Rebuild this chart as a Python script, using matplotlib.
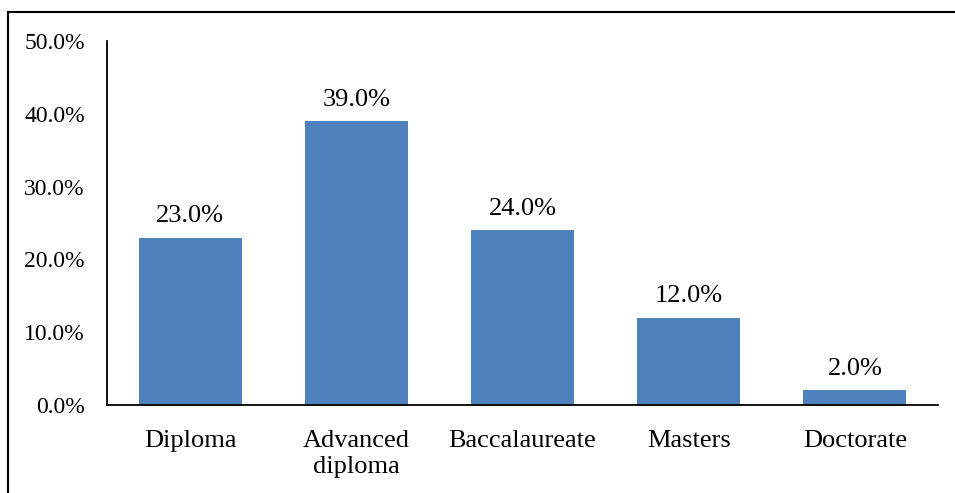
import matplotlib
matplotlib.use("Agg")
import matplotlib.pyplot as plt
from matplotlib.lines import Line2D

categories = ["Diploma", "Advanced\ndiploma", "Baccalaureate", "Masters", "Doctorate"]
values = [23.0, 39.0, 24.0, 12.0, 2.0]
yticks = [0, 10, 20, 30, 40, 50]

plt.rcParams["font.family"] = ["Liberation Serif", "DejaVu Serif"]

fig = plt.figure(figsize=(9.55, 4.93), dpi=100)
ax = fig.add_axes([107 / 955, 1 - 405 / 493, (938 - 107) / 955, (405 - 41) / 493])

x = range(len(categories))
bars = ax.bar(x, values, width=0.62, color="#4F81BD")
for b, v in zip(bars, values):
    ax.text(b.get_x() + b.get_width() / 2, v + 1.4, f"{v:.1f}%",
            ha="center", va="bottom", fontsize=19)

ax.set_xlim(-0.5, len(categories) - 0.5)
ax.set_ylim(0, 50)
ax.set_yticks(yticks)
ax.set_yticklabels([f"{t:.1f}%" for t in yticks], fontsize=17)
ax.set_xticks(list(x))
ax.set_xticklabels(categories, fontsize=19, linespacing=1.25)
ax.tick_params(axis="both", length=0)
ax.tick_params(axis="y", pad=16)
ax.tick_params(axis="x", pad=18)
for s in ["top", "right"]:
    ax.spines[s].set_visible(False)
for s in ["left", "bottom"]:
    ax.spines[s].set_linewidth(1.3)

# outer frame (left and top edges only visible)
fig.add_artist(Line2D([8 / 955, 8 / 955], [0, 1 - 12 / 493], color="black", lw=1.5,
                      transform=fig.transFigure))
fig.add_artist(Line2D([8 / 955, 1], [1 - 12 / 493, 1 - 12 / 493], color="black", lw=1.5,
                      transform=fig.transFigure))

fig.savefig("out.png", dpi=100)
